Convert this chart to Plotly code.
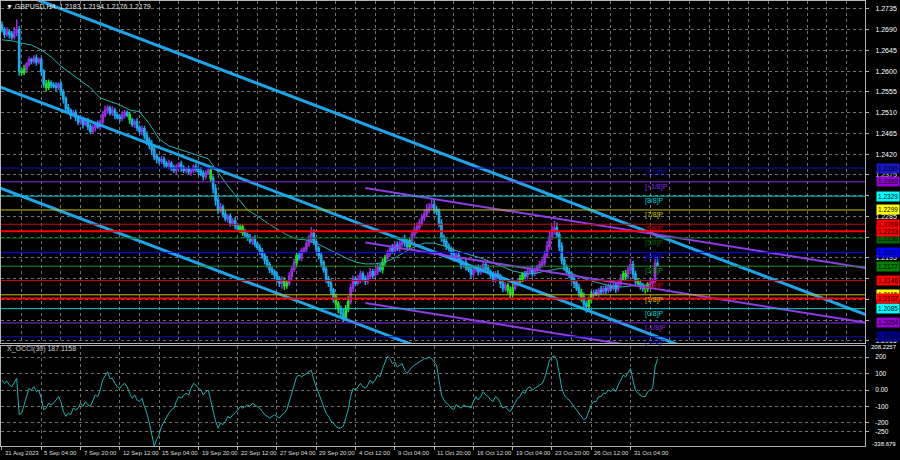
import plotly.graph_objects as go

# ---------------- data ----------------
symbol = "GBPUSD,H4"
cci_name = "X_OCCI(30)"

date_labels = ["31 Aug 2023", "5 Sep 04:00", "7 Sep 20:00", "12 Sep 12:00", "15 Sep 04:00",
               "19 Sep 20:00", "22 Sep 12:00", "27 Sep 04:00", "29 Sep 20:00", "4 Oct 12:00",
               "9 Oct 04:00", "11 Oct 20:00", "16 Oct 12:00", "19 Oct 04:00", "23 Oct 20:00",
               "26 Oct 12:00", "31 Oct 04:00"]
bars_per_label = 16

# prices in pips above 1.2000
first_open_pips = 700
close_pips = [
    690, 680, 685, 680, 675, 684, 690, 600, 598, 605,
    615, 625, 622, 628, 620, 625, 600, 572, 565, 575,
    570, 568, 565, 572, 555, 540, 520, 515, 505, 510,
    500, 490, 495, 485, 490, 480, 470, 478, 485, 480,
    490, 505, 515, 520, 510, 515, 505, 500, 498, 505,
    510, 505, 495, 485, 490, 478, 470, 475, 460, 450,
    440, 430, 415, 410, 405, 408, 400, 395, 400, 390,
    385, 392, 398, 390, 385, 388, 382, 385, 392, 388,
    383, 378, 372, 380, 385, 368, 345, 320, 300, 305,
    290, 280, 285, 270, 275, 265, 258, 262, 250, 245,
    240, 232, 236, 225, 218, 210, 200, 190, 180, 170,
    165, 158, 150, 140, 145, 135, 140, 155, 170, 185,
    200, 195, 210, 215, 225, 235, 248, 230, 215, 200,
    185, 170, 150, 140, 125, 110, 95, 85, 75, 65,
    85, 100, 130, 150, 140, 148, 160, 150, 145, 155,
    165, 158, 165, 175, 170, 185, 195, 205, 215, 210,
    222, 215, 225, 235, 228, 220, 232, 245, 255, 262,
    270, 282, 290, 300, 305, 310, 300, 295, 270, 240,
    230, 220, 215, 205, 195, 200, 190, 180, 185, 175,
    170, 160, 168, 175, 165, 170, 180, 172, 165, 158,
    150, 160, 155, 140, 130, 135, 125, 118, 130, 140,
    145, 150, 160, 155, 165, 170, 162, 168, 175, 180,
    185, 200, 220, 240, 255, 260, 245, 220, 190, 175,
    165, 160, 150, 140, 130, 120, 110, 95, 90, 105,
    115, 120, 118, 125, 122, 128, 125, 132, 130, 135,
    128, 140, 150, 160, 155, 170, 180, 160, 145, 140,
    135, 130, 128, 138, 140, 145, 183, 179]
wick_up = [
    8, 6, 10, 5, 7, 12, 22, 8, 6, 9, 5, 7, 4, 6, 8, 5, 6, 4, 9, 7,
    5, 6, 8, 4, 7, 6, 5, 9, 4, 6, 7, 5, 8, 6, 5, 9, 6, 7, 5, 8,
    6, 8, 10, 7, 5, 9, 6, 4, 7, 8, 6, 5, 7, 4, 6, 8, 5, 7, 6, 9,
    7, 10, 8, 6, 5, 9, 7, 6, 8, 5, 7, 6, 5, 8, 6, 4, 7, 5, 6, 8,
    6, 9, 7, 5, 12, 8, 6, 10, 7, 9, 6, 8, 5, 7, 6, 9, 5, 7, 6, 8,
    5, 7, 6, 8, 5, 6, 7, 5, 9, 6, 8, 5, 7, 6, 10, 8, 6, 9, 7, 8,
    6, 9, 7, 5, 8, 10, 14, 9, 7, 6, 8, 5, 7, 6, 9, 5, 8, 6, 7, 10,
    8, 12, 9, 7, 6, 10, 8, 6, 7, 9, 8, 6, 7, 10, 8, 9, 7, 8, 6, 10,
    7, 9, 8, 6, 10, 8, 7, 9, 8, 10, 9, 8, 10, 12, 9, 15, 10, 8, 7, 9,
    6, 8, 7, 5, 9, 6, 8, 7, 5, 9, 6, 7, 8, 5, 6, 9, 7, 6, 8, 5,
    7, 6, 8, 5, 9, 7, 6, 8, 10, 7, 6, 8, 5, 7, 9, 6, 8, 7, 5, 9,
    8, 10, 12, 14, 10, 15, 12, 8, 9, 7, 6, 8, 5, 7, 6, 9, 8, 10, 7, 6,
    8, 6, 7, 5, 9, 6, 8, 7, 5, 9, 6, 8, 10, 7, 9, 8, 14, 9, 7, 6,
    8, 6, 7, 5, 9, 6, 10, 11]
wick_dn = [
    6, 8, 5, 9, 7, 6, 8, 10, 8, 6, 9, 5, 7, 6, 8, 5, 10, 8, 9, 6,
    7, 5, 8, 6, 9, 10, 7, 6, 9, 5, 8, 7, 6, 9, 5, 8, 7, 6, 9, 5,
    7, 6, 5, 8, 6, 7, 9, 5, 8, 6, 7, 5, 9, 6, 8, 7, 6, 9, 8, 10,
    9, 12, 8, 10, 7, 6, 9, 5, 8, 7, 6, 9, 5, 8, 6, 7, 5, 9, 6, 7,
    8, 6, 9, 7, 5, 8, 10, 12, 9, 7, 8, 6, 9, 7, 5, 8, 6, 9, 7, 6,
    8, 6, 9, 7, 5, 8, 7, 9, 6, 8, 7, 10, 9, 8, 12, 9, 7, 6, 8, 5,
    7, 6, 8, 5, 9, 6, 8, 7, 9, 8, 10, 7, 9, 8, 10, 12, 9, 10, 8, 9,
    7, 8, 6, 9, 7, 5, 8, 6, 9, 7, 6, 8, 5, 7, 6, 9, 7, 5, 8, 6,
    7, 5, 8, 6, 9, 7, 5, 6, 8, 7, 6, 5, 7, 6, 8, 5, 9, 7, 8, 10,
    9, 8, 6, 9, 7, 8, 6, 9, 7, 8, 6, 9, 7, 5, 8, 6, 7, 9, 6, 8,
    7, 9, 6, 10, 9, 8, 7, 10, 8, 6, 7, 5, 8, 6, 7, 5, 8, 6, 7, 5,
    6, 7, 5, 8, 6, 9, 7, 10, 9, 8, 7, 9, 8, 10, 7, 9, 10, 12, 14, 8,
    7, 8, 6, 9, 7, 5, 8, 6, 7, 5, 9, 6, 7, 5, 8, 6, 7, 9, 8, 7,
    9, 8, 10, 7, 6, 8, 5, 3]
green_bars = [8, 9, 18, 19, 52, 85, 97, 98, 115, 116, 120, 136, 137, 140, 141, 155, 156,
              166, 206, 207, 208, 211, 212, 236, 239, 240, 253, 254, 259, 262, 263]

# moving average, one reading every 4 bars (pips above 1.2000)
ma_step = 4
ma_pips = [668, 666, 661, 657, 646, 631, 611, 596, 579, 564, 542, 535, 527, 516, 512,
           486, 453, 438, 431, 425, 418, 410, 381, 351, 325, 299, 286, 271, 258, 245,
           236, 234, 227, 217, 206, 195, 186, 182, 182, 186, 195, 208, 219, 227, 227,
           221, 212, 206, 199, 193, 184, 175, 167, 162, 160, 165, 169, 173, 162, 152,
           145, 139, 134, 132, 134, 136, 136]

cci_values = [
    60, 40, 55, 30, 20, 45, 70,
    -150, -140, -90, -40, 10, 0, 20, -10, 0,
    -50, -120, -110, -80, -90, -80, -60, -40, -70,
    -130, -160, -140, -150, -110, -120, -110, -80, -100, -70, -90,
    -100, -60, -30, -40, 0, 60, 90, 110, 70, 70, 40, 20, 10, 30,
    40, 20, -20, -50, -30, -60, -70, -50, -100, -140,
    -200, -260, -338.679, -300, -270, -220, -190, -170, -140,
    -120, -110, -70, -40, -50, -30, -20, -30, 10, 40, 30, 10, 0, -30, -10, 0,
    -60, -130, -190, -230, -200, -210, -190, -160, -170, -150, -140,
    -120, -100, -110, -100, -90, -100, -80, -90, -100, -110,
    -130, -150, -160, -170, -160, -150, -160, -170, -150, -140, -120,
    -70, -10, 40, 80, 90, 80, 90, 100, 110, 120,
    60, 20, -20, -60, -90, -140, -160, -190, -200, -220, -230, -230, -220,
    -170, -120, -40, 10, 0, 20, 40, 20, 10, 30,
    60, 40, 60, 90, 80, 130, 170, 205, 190, 160,
    170, 140, 150, 160, 120, 100, 120, 140, 150, 160,
    170, 180, 190, 190, 200, 190, 170, 150,
    60, -30, -60, -80, -90, -110, -120, -90, -100, -110, -90, -100,
    -100, -110, -70, -40, -60, -40, -10, -30, -40, -60,
    -70, -40, -50, -80, -110, -100, -120, -130, -100, -70, -50,
    -40, -10, -20, 10, 20, 0, 10, 20, 30, 40, 70, 120,
    180, 200, 208.2257, 180, 100, 10, -30,
    -50, -60, -80, -100, -120, -140, -160, -180, -170, -130,
    -90, -70, -70, -40, -40, -20, -20, 0, -10, 10,
    -10, 30, 60, 90, 80, 110, 130, 60, 0, -20,
    -30, -40, -40, -10, 0, 10, 140, 187.1158]

price_ticks = [1.2735, 1.2690, 1.2645, 1.2600, 1.2555, 1.2510, 1.2465, 1.2420, 1.2375,
               1.2330, 1.2285, 1.2240, 1.2195, 1.2150, 1.2105, 1.2060, 1.2015]
hidden_price_ticks = [1.2330, 1.2240, 1.2150, 1.2105, 1.2060]
cci_ticks = [200, 100, 0, -100, -200, -250]
cci_tick_text = ["200", "100", "0.00", "-100", "-200", "-250"]
cci_max_label = 208.2257
cci_min_label = -338.679

murrey_names = ["[+2/8]P", "[+1/8]P", "[8/8]P", "[7/8]P", "[6/8]P", "[5/8]P", "[4/8]P",
                "[3/8]P", "[2/8]P", "[1/8]P", "[0/8]P", "[-1/8]P", "[-2/8]P"]
murrey_levels = [1.2390, 1.2360, 1.2329, 1.2299, 1.2268, 1.2238, 1.2207,
                 1.2177, 1.2146, 1.2115, 1.2085, 1.2054, 1.2024]
sr_levels = [1.2253, 1.2107]

# channel (blue) and trend (purple) lines: start bar/price, end bar/price
channel_x0 = [10, -1, -1]
channel_y0 = [1.27638, 1.25662, 1.23471]
channel_x1 = [352, 290, 170]
channel_y1 = [1.20716, 1.19772, 1.20010]
trend_x0 = [148, 148, 148]
trend_y0 = [1.23467, 1.22285, 1.20974]
trend_x1 = [352, 352, 352]
trend_y1 = [1.21728, 1.20546, 1.19235]

# ---------------- styles ----------------
BG = "#000000"
FRAME = "#b4b4b4"
GRID = "rgba(160,160,160,0.7)"
FONT = "Liberation Sans, Arial, sans-serif"
C_UP = "#9a2be2"
C_DN = "#19a9ee"
C_GREEN = "#22e022"
C_MA = "#20b2aa"
C_CHANNEL = "#1aa6ea"
C_TREND = "#8f3be6"
murrey_line_colors = ["#1010b8", "#8a2be2", "#00ced1", "#c8c800", "#d00000", "#006400", "#0000ff",
                      "#1f8f1f", "#d00000", "#c8c800", "#00ced1", "#8a2be2", "#1010b8"]
murrey_box_colors = ["#1818c8", "#9400d3", "#00ffff", "#ffff00", "#ff0000", "#006400", "#0000ff",
                     "#008000", "#ff0000", "#ffff00", "#00ffff", "#9400d3", "#000090"]
SR_COLOR = "#ff0000"

# ---------------- build ----------------
def px(p):
    return 1.2 + p / 10000.0

n = min(len(close_pips), len(wick_up), len(wick_dn))
closes = [px(p) for p in close_pips[:n]]
opens = [px(first_open_pips)] + closes[:-1]
highs = [max(o, c) + w / 10000.0 for o, c, w in zip(opens, closes, wick_up)]
lows = [min(o, c) - w / 10000.0 for o, c, w in zip(opens, closes, wick_dn)]

green_set = set(green_bars)
groups = {"up": [], "down": [], "green": []}
for i in range(n):
    if i in green_set:
        groups["green"].append(i)
    elif closes[i] >= opens[i]:
        groups["up"].append(i)
    else:
        groups["down"].append(i)
group_colors = {"up": C_UP, "down": C_DN, "green": C_GREEN}

fig = go.Figure()
for g, idx in groups.items():
    col = group_colors[g]
    fig.add_trace(go.Candlestick(
        x=idx, open=[opens[i] for i in idx], high=[highs[i] for i in idx],
        low=[lows[i] for i in idx], close=[closes[i] for i in idx],
        increasing=dict(line=dict(color=col, width=1.5), fillcolor=col),
        decreasing=dict(line=dict(color=col, width=1.5), fillcolor=col),
        whiskerwidth=0, showlegend=False, hoverinfo="skip", xaxis="x", yaxis="y"))

# moving average
fig.add_trace(go.Scatter(x=[k * ma_step for k in range(len(ma_pips))], y=[px(p) for p in ma_pips],
                         mode="lines", line=dict(color=C_MA, width=1), hoverinfo="skip",
                         xaxis="x", yaxis="y"))

# channel lines
for a, b, c, d in zip(channel_x0, channel_y0, channel_x1, channel_y1):
    fig.add_trace(go.Scatter(x=[a, c], y=[b, d], mode="lines",
                             line=dict(color=C_CHANNEL, width=3), hoverinfo="skip",
                             xaxis="x", yaxis="y"))
for a, b, c, d in zip(trend_x0, trend_y0, trend_x1, trend_y1):
    fig.add_trace(go.Scatter(x=[a, c], y=[b, d], mode="lines",
                             line=dict(color=C_TREND, width=2), hoverinfo="skip",
                             xaxis="x", yaxis="y"))

# CCI
fig.add_trace(go.Scatter(x=list(range(len(cci_values))), y=cci_values, mode="lines",
                         line=dict(color=C_MA, width=1), hoverinfo="skip",
                         xaxis="x2", yaxis="y2"))

shapes = []
annotations = []
label_bar = 261
box_x = (876 - 1) / 864.0

for name, lvl, lc, bc in zip(murrey_names, murrey_levels, murrey_line_colors, murrey_box_colors):
    shapes.append(dict(type="line", xref="x domain", x0=0, x1=1, yref="y", y0=lvl, y1=lvl,
                       line=dict(color=lc, width=1), layer="above"))
    annotations.append(dict(x=label_bar, y=lvl, xref="x", yref="y", text=name, showarrow=False,
                            xanchor="left", yanchor="top", yshift=1,
                            font=dict(size=7, color=lc, family=FONT)))
for lvl in sr_levels:
    shapes.append(dict(type="line", xref="x domain", x0=0, x1=1, yref="y", y0=lvl, y1=lvl,
                       line=dict(color=SR_COLOR, width=2), layer="above"))

# right-side price boxes
box_items = list(zip(murrey_levels, murrey_box_colors)) + [(l, SR_COLOR) for l in sr_levels]
for lvl, bc in box_items:
    annotations.append(dict(x=box_x, y=lvl, xref="paper", yref="y", text=f"{lvl:.4f}",
                            showarrow=False, xanchor="left", yanchor="middle", bgcolor=bc,
                            borderpad=1, font=dict(size=6.5, color="#000000", family=FONT)))

# date labels
for k, lab in enumerate(date_labels):
    annotations.append(dict(x=k * bars_per_label + 0.5, y=-0.0157, xref="x", yref="paper",
                            text=lab, showarrow=False, xanchor="left", yanchor="middle",
                            font=dict(size=6, color="#dcdcdc", family=FONT)))

# titles
last = n - 1
annotations.append(dict(x=0.004, y=0.9885, xref="paper", yref="paper",
                        text=f"▼ {symbol}  {opens[last]:.4f} {highs[last]:.4f} {lows[last]:.4f} {closes[last]:.4f}",
                        showarrow=False, xanchor="left", yanchor="middle",
                        font=dict(size=7, color="#e6e6e6", family=FONT)))
annotations.append(dict(x=0.005, y=0.218, xref="paper", yref="paper",
                        text=f"{cci_name} {cci_values[-1]:.4f}", showarrow=False,
                        xanchor="left", yanchor="middle",
                        font=dict(size=7, color="#d0d0d0", family=FONT)))
annotations.append(dict(x=1.0, y=0.222, xref="paper", yref="paper", text=f"{cci_max_label}",
                        showarrow=False, xanchor="left", yanchor="middle", xshift=4,
                        font=dict(size=6, color="#ffffff", family=FONT)))
annotations.append(dict(x=1.0, y=0.004, xref="paper", yref="paper", text=f"{cci_min_label}",
                        showarrow=False, xanchor="left", yanchor="middle", xshift=5,
                        font=dict(size=6, color="#ffffff", family=FONT)))

grid_bars = list(range(0, 360, 8))
price_text = ["" if t in hidden_price_ticks else f"{t:.4f}" for t in price_ticks]

axis_common = dict(showline=True, linecolor=FRAME, linewidth=1, mirror=True, zeroline=False,
                   showgrid=True, gridcolor=GRID, griddash="3px,3px", gridwidth=1)

fig.update_layout(
    width=900, height=460, margin=dict(l=1, r=35, t=1, b=14), autosize=False,
    paper_bgcolor=BG, plot_bgcolor=BG, showlegend=False, hovermode=False,
    font=dict(family=FONT, size=7, color="white"),
    xaxis=dict(domain=[0, 1], anchor="y", range=[-0.4, 351.5], tickvals=grid_bars,
               showticklabels=False, ticks="", rangeslider=dict(visible=False), **axis_common),
    yaxis=dict(domain=[0.2315, 1], anchor="x", side="right", range=[1.20105, 1.27523],
               tickvals=price_ticks, ticktext=price_text, ticks="outside", ticklen=3,
               tickcolor=FRAME, ticklabelstandoff=5,
               tickfont=dict(size=7, color="white", family=FONT), **axis_common),
    xaxis2=dict(domain=[0, 1], anchor="y2", matches="x", range=[-0.4, 351.5],
                tickvals=[k * bars_per_label for k in range(len(date_labels))],
                ticktext=[""] * len(date_labels), ticks="outside", ticklen=3, tickcolor=FRAME,
                rangeslider=dict(visible=False), **axis_common),
    yaxis2=dict(domain=[0, 0.2247], anchor="x2", side="right", range=[-339.4, 266.7],
                tickvals=cci_ticks, ticktext=cci_tick_text, ticks="outside", ticklen=3,
                tickcolor=FRAME, ticklabelstandoff=5,
                tickfont=dict(size=6.5, color="white", family=FONT), **axis_common),
    shapes=shapes, annotations=annotations,
)

fig.write_html("out.html", config={"displayModeBar": False, "staticPlot": True},
               post_script="document.body.style.margin='0';document.body.style.overflow='hidden';")
